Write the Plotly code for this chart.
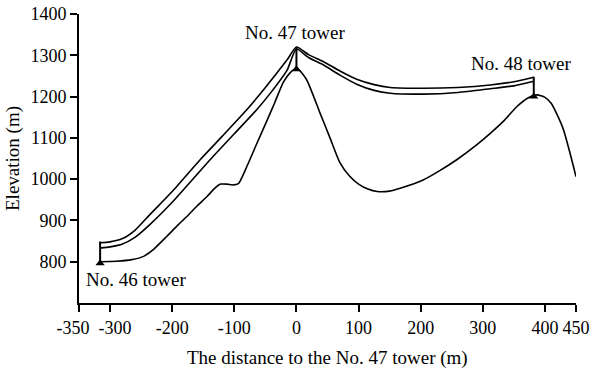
import plotly.graph_objects as go

# ---- data ----
ground_x = [-316, -290, -265, -246, -230, -209, -190, -176, -160, -144, -130, -122, -112, -102, -93,
            -80, -65, -48, -35, -21, -10, -3, 3, 16, 38, 54, 70, 85, 100, 115, 130, 150, 167,
            204, 230, 258, 290, 312, 335, 355, 372, 387, 400, 410, 420, 430, 440, 450]
ground_y = [800, 801, 805, 813, 830, 861, 890, 910, 935, 958, 980, 988, 988, 986, 990,
            1030, 1082, 1140, 1185, 1235, 1258, 1266, 1266, 1242, 1160, 1100, 1040, 1008, 988, 976, 970, 971, 978,
            998, 1020, 1047, 1083, 1111, 1143, 1176, 1196, 1204, 1198, 1184, 1155, 1119, 1065, 1006]

upper_x = [-316, -300, -280, -260, -236, -200, -155, -120, -80, -50, -15, 0,
           20, 43, 70, 97, 125, 151, 204, 260, 312, 350, 382]
upper_y = [846, 848, 856, 876, 914, 970, 1047, 1103, 1168, 1222, 1289, 1320,
           1301, 1285, 1262, 1242, 1229, 1222, 1220, 1222, 1228, 1236, 1247]

lower_x = [-316, -300, -280, -260, -236, -200, -139, -100, -64, -40, -15, 0,
           20, 43, 70, 97, 125, 151, 204, 260, 312, 350, 382]
lower_y = [833, 836, 843, 859, 890, 944, 1047, 1110, 1168, 1212, 1264, 1315,
           1294, 1277, 1252, 1230, 1215, 1208, 1206, 1210, 1219, 1226, 1237]

tower_x = [-316, 0, 382]
tower_base = [796, 1266, 1200]
tower_top = [849, 1320, 1248]
tower_names = ["No. 46 tower", "No. 47 tower", "No. 48 tower"]
label_x = [-258, -2, 361]
label_y = [756, 1355, 1281]

x_ticks = [-350, -300, -200, -100, 0, 100, 200, 300, 400, 450]
x_tick_text = ["", "", "-200", "-100", "0", "100", "200", "300", "400", "450"]
y_ticks = [800, 900, 1000, 1100, 1200, 1300, 1400]
x_title = "The distance to the No. 47 tower (m)"

FONT = "Liberation Serif"
tickfont = dict(family=FONT, size=18, color="black")

fig = go.Figure()

fig.add_trace(go.Scatter(x=ground_x, y=ground_y, mode="lines",
                         line=dict(color="black", width=1.6, shape="spline", smoothing=0.6),
                         showlegend=False, hoverinfo="skip"))
fig.add_trace(go.Scatter(x=upper_x, y=upper_y, mode="lines",
                         line=dict(color="black", width=1.6, shape="spline", smoothing=0.6),
                         showlegend=False))
fig.add_trace(go.Scatter(x=lower_x, y=lower_y, mode="lines",
                         line=dict(color="black", width=1.6, shape="spline", smoothing=0.6),
                         showlegend=False))

# tower vertical lines
tx, ty = [], []
for x, b, t in zip(tower_x, tower_base, tower_top):
    tx += [x, x, None]
    ty += [b, t, None]
fig.add_trace(go.Scatter(x=tx, y=ty, mode="lines", line=dict(color="black", width=2),
                         showlegend=False))
# tower base markers
fig.add_trace(go.Scatter(x=tower_x, y=tower_base, mode="markers",
                         marker=dict(symbol="triangle-up", size=8, color="black"),
                         showlegend=False))

for name, lx, ly in zip(tower_names, label_x, label_y):
    fig.add_annotation(x=lx, y=ly, text=name, showarrow=False,
                       font=dict(family=FONT, size=19, color="black"))

# x-axis title placed below the tick labels
fig.add_annotation(x=0.5, y=-0.19, xref="paper", yref="paper", text=x_title,
                   showarrow=False, yanchor="middle",
                   font=dict(family=FONT, size=19, color="black"))

axis_common = dict(showline=True, linecolor="black", linewidth=2, ticks="outside",
                   ticklen=7, tickwidth=2, tickcolor="black", showgrid=False, zeroline=False,
                   tickangle=0, automargin=False, tickfont=tickfont,
                   title_font=dict(family=FONT, size=19, color="black"))

fig.update_xaxes(range=[-350, 450], tickvals=x_ticks, ticktext=x_tick_text, **axis_common)
fig.update_yaxes(range=[700, 1400], tickvals=y_ticks, ticktext=[str(v) for v in y_ticks],
                 title_text="Elevation (m)", title_standoff=6, **axis_common)

# the two crowded left-most x labels, nudged apart as in the reference
fig.update_layout(
    xaxis2=dict(overlaying="x", matches="x", side="bottom", showline=False, ticks="",
                showgrid=False, zeroline=False, tickvals=[x_ticks[0]], ticktext=[str(x_ticks[0])],
                tickfont=tickfont, ticklabelshift=-6, ticklabelstandoff=12, automargin=False),
    xaxis3=dict(overlaying="x", matches="x", side="bottom", showline=False, ticks="",
                showgrid=False, zeroline=False, tickvals=[x_ticks[1]], ticktext=[str(x_ticks[1])],
                tickfont=tickfont, ticklabelshift=5, ticklabelstandoff=12, automargin=False),
)
# invisible anchor traces so the overlay axes are drawn
fig.add_trace(go.Scatter(x=[x_ticks[0]], y=[y_ticks[0]], xaxis="x2", mode="markers",
                         marker=dict(opacity=0), showlegend=False, hoverinfo="skip"))
fig.add_trace(go.Scatter(x=[x_ticks[1]], y=[y_ticks[0]], xaxis="x3", mode="markers",
                         marker=dict(opacity=0), showlegend=False, hoverinfo="skip"))

fig.update_layout(width=592, height=374, margin=dict(l=79, r=16, t=14, b=71),
                  plot_bgcolor="white", paper_bgcolor="white", showlegend=False)

fig.write_html("out.html")
